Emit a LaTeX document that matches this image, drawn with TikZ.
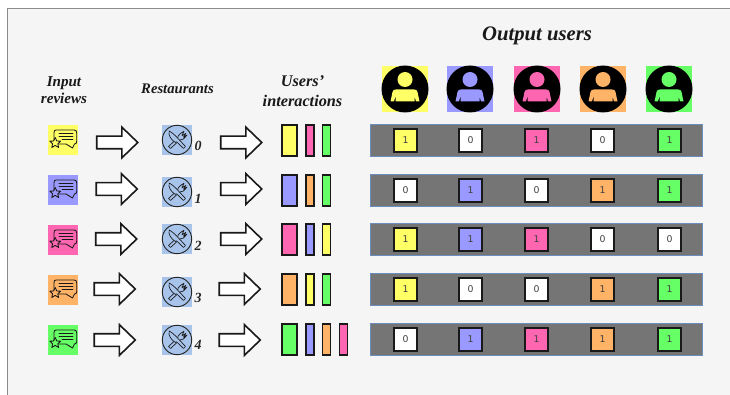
\documentclass[tikz,border=0pt]{standalone}
\usepackage{fontspec}
\setmainfont{Liberation Serif}
\newfontfamily\cellfont{DejaVu Sans}
\usetikzlibrary{shapes.arrows}
\definecolor{cy}{HTML}{FFFF66}
\definecolor{cb}{HTML}{9999FF}
\definecolor{cp}{HTML}{FF66B2}
\definecolor{co}{HTML}{FFB366}
\definecolor{cg}{HTML}{66FF66}
\definecolor{cw}{HTML}{FFFFFF}
\definecolor{panel}{HTML}{F5F5F5}
\definecolor{barfill}{HTML}{757575}
\definecolor{barline}{HTML}{6C8EBF}
\definecolor{restblue}{HTML}{A9C4EB}
\tikzset{
  x=0.75pt,y=-0.75pt,
  title/.style={font=\bfseries\itshape\fontsize{11.3}{13}\selectfont,align=center,inner sep=0pt,text=black!90},
  idx/.style={font=\bfseries\itshape\fontsize{10.5}{12}\selectfont,inner sep=0pt,text=black!85},
  blockarrow/.style={single arrow,draw=black!90,fill=white,line width=1.2pt,minimum height=41*0.75pt,minimum width=30*0.75pt,single arrow head extend=9*0.75pt,single arrow tip angle=88,inner sep=0pt,text height=11*0.75pt,text depth=0pt,text width=1pt},
  bigbar/.style={draw=black!90,line width=1.3pt,minimum width=15.5*0.75pt,minimum height=31.5*0.75pt,inner sep=0pt},
  thinbar/.style={draw=black!90,line width=1.3pt,minimum width=8*0.75pt,minimum height=31.5*0.75pt,inner sep=0pt},
  greybar/.style={draw=barline,fill=barfill,line width=0.7pt,minimum width=332.5*0.75pt,minimum height=32.5*0.75pt,inner sep=0pt},
  cell/.style={draw=black!90,line width=1.4pt,minimum size=23.5*0.75pt,inner sep=0pt,font=\cellfont\fontsize{7}{8}\selectfont,text=black!75},
  sq/.style={minimum size=#1*0.75pt,inner sep=0pt,draw=none},
  ln/.style={draw=black!90,line width=0.65pt,line join=round,line cap=round},
}
\newcommand{\reviewicon}[3]{% name, col, (x,y)
  \node[sq=30,fill=#2] (#1) at #3 {};
  \begin{scope}[shift={#3}]
    \draw[ln] (-7,-10) -- (11,-10) .. controls (13,-10) and (13.7,-9) .. (13.7,-7) -- (13.7,1.5) .. controls (13.7,3) and (13,4) .. (11.5,4) -- (9.5,8) -- (3,4) -- (-7,4) .. controls (-8.5,4) and (-9,3) .. (-9,1.5) -- (-9,-7) .. controls (-9,-9) and (-8.5,-10) .. (-7,-10) -- cycle;
    \draw[ln] (-4,-7) -- (10,-7) (-4,-4) -- (10,-4) (-1,-1) -- (10,-1);
    \draw[ln,fill=#2] (-7.8,-2.5) -- (-6.2,1) -- (-2.4,1.2) -- (-5.2,3.8) -- (-4.4,7.5) -- (-7.8,5.4) -- (-11.2,7.5) -- (-10.4,3.8) -- (-13.2,1.2) -- (-9.4,1) -- cycle;
  \end{scope}
}
\newcommand{\resticon}[2]{% name, (x,y)
  \node[sq=30,fill=restblue] (#1) at #2 {};
  \begin{scope}[shift={#2}]
    \draw[draw=black!85,line width=0.7pt] (0,0) circle (14.7);
    % fork
    \draw[ln,line width=0.5pt,fill=restblue] (0.8,-2) -- (-8.5,6.5) -- (-6.5,8.5) -- (2.8,0) .. controls (5,0.5) and (7,-1) .. (10,-5) -- (6.5,-2.8) -- (8.8,-6.6) -- (5,-4.2) -- (7,-8.8) .. controls (4,-7) and (0.3,-4.5) .. (0.8,-2) -- cycle;
    % knife
    \draw[ln,line width=0.5pt,fill=restblue] (-7.8,-9) .. controls (-4,-7) and (-1,-3.5) .. (1.5,-1) -- (8.5,6.5) -- (6.5,8.5) -- (-0.5,1.8) -- (-1.5,2.5) .. controls (-6,0) and (-9,-5) .. (-7.8,-9) -- cycle;
  \end{scope}
}
\newcommand{\usericon}[3]{% name, col, x
  \node[sq=46,fill=#2] (#1) at (#3,89) {};
  \begin{scope}[shift={(#3,89)}]
    \fill[black] (0,0) circle (23.5);
    \fill[#2] (0,-9.5) circle (7.5);
    \fill[#2] (-9,0.5) .. controls (-11,0.5) and (-12,1) .. (-12.5,3) -- (-14.5,12.5) -- (-11,12.5) -- (-9.5,7) -- (-9.5,12.5) -- (9.5,12.5) -- (9.5,7) -- (11,12.5) -- (14.5,12.5) -- (12.5,3) .. controls (12,1) and (11,0.5) .. (9,0.5) -- cycle;
  \end{scope}
}
\begin{document}
\begin{tikzpicture}
\useasboundingbox (0,0) rectangle (730,395);
\fill[white] (0,0) rectangle (730,395);
\fill[panel] (8,8) rectangle (730,395);
\draw[black!45,line width=0.6pt] (7.5,395) -- (7.5,8) -- (730,8);

\node[title] (tinput) at (64,90) {Input\\[-0.5pt]reviews};
\node[title,font=\bfseries\itshape\fontsize{11}{13}\selectfont] (trest) at (177.5,89) {Restaurants};
\node[title,font=\bfseries\itshape\fontsize{12.2}{15}\selectfont] (tinter) at (302.5,91) {Users\symbol{39}\\interactions};
\node[title,font=\bfseries\itshape\fontsize{15.5}{18}\selectfont] (toutput) at (537,35.5) {Output users};

\usericon{u0}{cy}{405}
\usericon{u1}{cb}{470}
\usericon{u2}{cp}{537}
\usericon{u3}{co}{603}
\usericon{u4}{cg}{669}

\foreach \r/\col/\rev/\rest/\lab/\labn/\aone/\atwo/\ay/\bar in {
  0/cy/140/140/146/0/114/238/142.5/140.5,
  1/cb/190/192/199/1/113.5/238/189/190.5,
  2/cp/240/239/246/2/113/238/239/239.5,
  3/co/290/292/298/3/111.5/236.5/289/289.5,
  4/cg/340/340/345/4/111.5/236.5/340/339.5}{
  \reviewicon{rev\r}{\col}{(63,\rev)}
  \node[blockarrow] (aa\r) at (\aone,\ay) {};
  \resticon{rest\r}{(177,\rest)}
  \node[idx] (lab\r) at (198,\lab) {\labn};
  \node[blockarrow] (ab\r) at (\atwo,\ay) {};
  \node[greybar] (bar\r) at (536.5,\bar) {};
}

\foreach \r/\y/\ca/\cb/\cc in {0/140.5/cy/cp/cg,1/190.5/cb/co/cg,2/239.5/cp/cb/cy,3/289.5/co/cy/cg,4/339.5/cg/cb/co}{
  \node[bigbar,fill=\ca] (ia\r) at (289.5,\y) {};
  \node[thinbar,fill=\cb] (ib\r) at (310,\y) {};
  \node[thinbar,fill=\cc] (ic\r) at (326.5,\y) {};
}
\node[thinbar,fill=cp] (id4) at (343.5,339.5) {};

\foreach \r/\y/\a/\ca/\b/\cb/\c/\cc/\d/\cd/\e/\ce in {
 0/140.5/1/cy/0/cw/1/cp/0/cw/1/cg,
 1/190.5/0/cw/1/cb/0/cw/1/co/1/cg,
 2/239.5/1/cy/1/cb/1/cp/0/cw/0/cw,
 3/289.5/1/cy/0/cw/0/cw/1/co/1/cg,
 4/339.5/0/cw/1/cb/1/cp/1/co/1/cg}{
  \node[cell,fill=\ca] (c\r a) at (405.5,\y) {\a};
  \node[cell,fill=\cb] (c\r b) at (470.5,\y) {\b};
  \node[cell,fill=\cc] (c\r c) at (536.5,\y) {\c};
  \node[cell,fill=\cd] (c\r d) at (602.5,\y) {\d};
  \node[cell,fill=\ce] (c\r e) at (669.5,\y) {\e};
}
\end{tikzpicture}
\end{document}
